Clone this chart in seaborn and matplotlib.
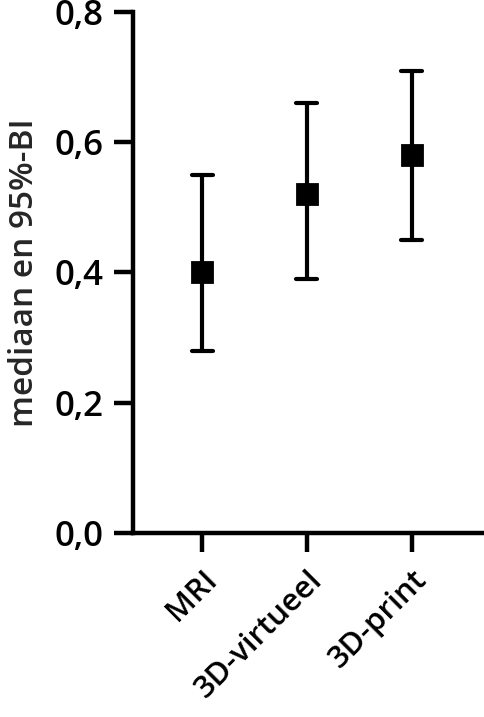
import seaborn as sns
import pandas as pd
import numpy as np
import matplotlib.pyplot as plt
from matplotlib.ticker import FuncFormatter

sns.set_style("ticks")
plt.rcParams['font.family'] = ['Open Sans', 'DejaVu Sans']

# median and 95% interval per method
methods = ["MRI", "3D-virtueel", "3D-print"]
median = [0.40, 0.52, 0.58]
ci_low = [0.28, 0.39, 0.45]
ci_high = [0.55, 0.66, 0.71]
yticks = [0.0, 0.2, 0.4, 0.6, 0.8]

# long table: each method gets low/median/high, estimator=median picks the middle
df = pd.DataFrame({
    "method": np.repeat(methods, 3),
    "value": np.ravel(np.column_stack([ci_low, median, ci_high])),
})

fig = plt.figure(figsize=(4.85, 7.17), dpi=100)
ax = fig.add_axes([0.274, 0.257, 0.726, 0.726])

sns.pointplot(data=df, x="method", y="value", order=methods,
              estimator=np.median, errorbar=lambda v: (v.min(), v.max()),
              color="black", marker="s", markersize=15, linestyle="none",
              capsize=0.2, err_kws={"linewidth": 3.0}, ax=ax)

ax.set_ylim(0, 0.8)
ax.set_xlim(-0.66, 2.7)
ax.set_yticks(yticks)
ax.yaxis.set_major_formatter(FuncFormatter(lambda v, p: f"{v:.1f}".replace(".", ",")))
ax.set_xlabel("")
ax.set_ylabel("mediaan en 95%-BI", fontsize=24, fontweight="semibold", labelpad=10)

for s in ["top", "right"]:
    ax.spines[s].set_visible(False)
for s in ["left", "bottom"]:
    ax.spines[s].set_linewidth(3.2)
    ax.spines[s].set_color("black")
ax.tick_params(axis="both", length=14, width=3.2, colors="black")
ax.tick_params(axis="y", pad=7, labelsize=25)
ax.tick_params(axis="x", pad=9, labelsize=22.5)
for lab in ax.get_yticklabels():
    lab.set_fontweight("semibold")
for lab in ax.get_xticklabels():
    lab.set_rotation(45)
    lab.set_ha("right")
    lab.set_rotation_mode("anchor")
    lab.set_fontweight("semibold")

plt.savefig("out.png", dpi=100)
